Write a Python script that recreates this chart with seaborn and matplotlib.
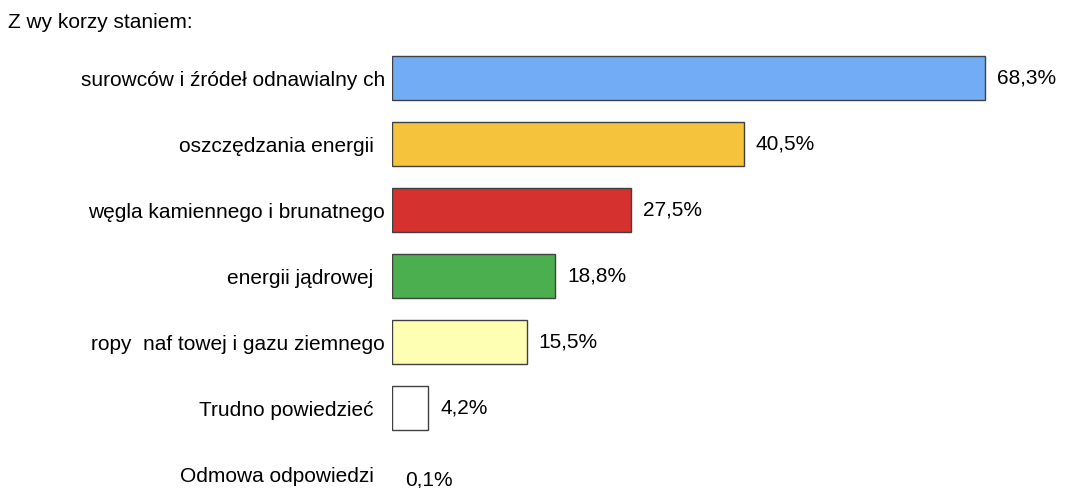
import pandas as pd
import matplotlib.pyplot as plt
import seaborn as sns

# --- DATA ---
categories = [
    "surowców i źródeł odnawialny ch",
    "oszczędzania energii  ",
    "węgla kamiennego i brunatnego",
    "energii jądrowej  ",
    "ropy  naf towej i gazu ziemnego",
    "Trudno powiedzieć  ",
    "Odmowa odpowiedzi  ",
]
values = [68.3, 40.5, 27.5, 18.8, 15.5, 4.2, 0.1]
colors = ["#71acf4", "#f5c33c", "#d5312e", "#4bae4f", "#ffffb3", "#ffffff", "#ffffff"]

df = pd.DataFrame({"cat": categories, "val": values})

sns.set_style("white")
plt.rcParams['font.family'] = ['Liberation Sans', 'DejaVu Sans']
plt.rcParams['text.color'] = 'black'
plt.rcParams['ytick.color'] = 'black'

fig = plt.figure(figsize=(10.67, 4.88), dpi=100)
ax = fig.add_axes([392 / 1067, 0.0, (1060 - 392) / 1067, 1 - 45 / 488])

sns.barplot(data=df, y="cat", x="val", hue="cat", palette=colors, legend=False,
            orient="h", width=0.66, saturation=1, edgecolor="#404040", linewidth=1, ax=ax)

# the 0,1% bar is too thin to show an outline in the original
for p in ax.patches:
    if p.get_width() < 1:
        p.set_edgecolor("none")

ax.set_xlim(0, (1060 - 392) / 8.68)
ax.set_ylim(6.21, -0.5)

# value labels
for i, v in enumerate(values):
    ax.annotate(f"{v:.1f}%".replace(".", ","), xy=(v, i), xytext=(8.5, 0 if i < 6 else -4),
                textcoords="offset points", va="center", ha="left", fontsize=15, color="black")

ax.set_xlabel("")
ax.set_ylabel("")
ax.set_xticks([])
ax.tick_params(axis="y", length=0, pad=5, labelsize=15, labelcolor="black")
for s in ax.spines.values():
    s.set_visible(False)

fig.text(8 / 1067, 1 - 22 / 488, "Z wy korzy staniem:", fontsize=15, va="center", ha="left", color="black")

plt.savefig("out.png", dpi=100)
plt.close()
